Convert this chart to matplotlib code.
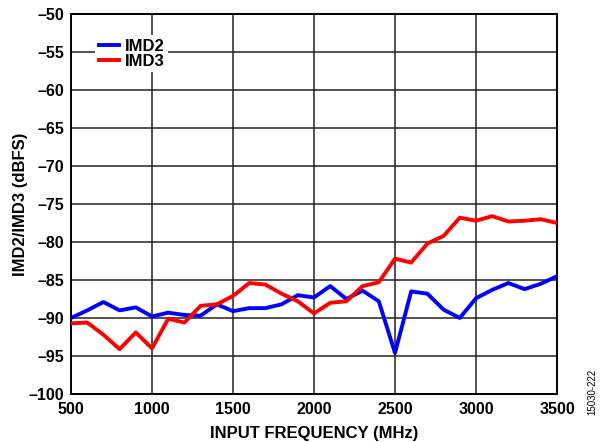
import numpy as np
import matplotlib.pyplot as plt

plt.rcParams['font.family'] = ['Liberation Sans', 'DejaVu Sans']

freq_mhz = np.arange(500, 3501, 100)

imd2 = [-90.0, -89.0, -87.9, -89.0, -88.6, -89.8, -89.3, -89.6, -89.7, -88.2,
        -89.1, -88.7, -88.7, -88.2, -87.0, -87.3, -85.8, -87.5, -86.4, -87.8,
        -94.6, -86.5, -86.8, -88.9, -90.0, -87.4, -86.3, -85.4, -86.2, -85.5,
        -84.5]
imd3 = [-90.7, -90.6, -92.2, -94.1, -91.9, -94.0, -90.1, -90.6, -88.4, -88.2,
        -87.1, -85.4, -85.6, -86.8, -87.8, -89.4, -88.0, -87.8, -85.8, -85.3,
        -82.2, -82.7, -80.2, -79.2, -76.8, -77.2, -76.6, -77.3, -77.2, -77.0,
        -77.5]

x_ticks = np.arange(500, 3501, 500)
y_ticks = np.arange(-100, -49, 5)

fig = plt.figure(figsize=(6.08, 4.42), dpi=100)
ax = fig.add_axes([0.1168, 0.1086, 0.7993, 0.8597])

ax.plot(freq_mhz, imd2, color='#0000ff', lw=2.8, label='IMD2', zorder=3)
ax.plot(freq_mhz, imd3, color='#ff0000', lw=2.8, label='IMD3', zorder=3)

ax.set_xlim(500, 3500)
ax.set_ylim(-100, -50)
ax.set_xticks(x_ticks)
ax.set_yticks(y_ticks)
ax.set_yticklabels([str(v).replace('-', '\u2013') for v in y_ticks])
ax.tick_params(length=0, labelsize=11.5)
ax.tick_params(axis='x', pad=6)
ax.tick_params(axis='y', pad=5)
for lab in ax.get_xticklabels() + ax.get_yticklabels():
    lab.set_fontweight('bold')

ax.grid(True, color='#222222', lw=1.1, zorder=1)
for s in ax.spines.values():
    s.set_linewidth(1.4)

ax.set_xlabel('INPUT FREQUENCY (MHz)', fontsize=12, fontweight='bold', labelpad=6)
ax.set_ylabel('IMD2/IMD3 (dBFS)', fontsize=12, fontweight='bold', labelpad=0)

leg = ax.legend(loc='upper left', bbox_to_anchor=(0.033, 0.966), frameon=True,
                fancybox=False, edgecolor='none', framealpha=1,
                handlelength=1.2, handletextpad=0.35, labelspacing=0.02,
                borderpad=0.2, prop={'weight': 'bold', 'size': 12})
leg.set_zorder(5)

fig.text(0.975, 0.06, '15030-222', rotation=90, fontsize=7, ha='center', va='bottom')

fig.savefig('out.png', dpi=100)
